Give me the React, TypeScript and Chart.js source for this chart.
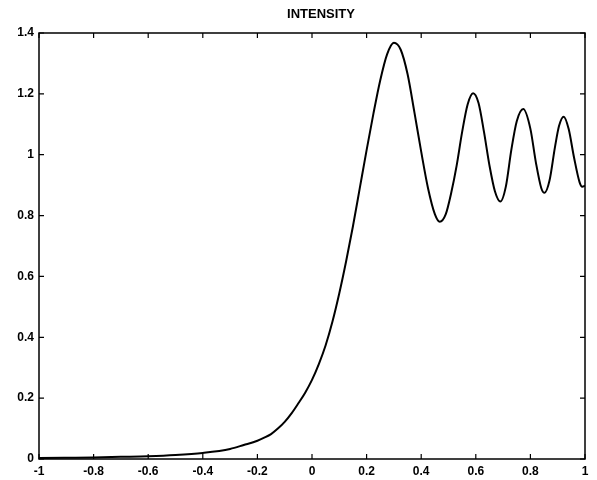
import React, { useEffect, useRef } from "react";
import { Chart, registerables } from "chart.js";

Chart.register(...registerables);

const titleText = "INTENSITY";

const xValues = [
  -1, -0.9, -0.8, -0.7, -0.6, -0.5, -0.4, -0.3, -0.25, -0.2, -0.175, -0.15,
  -0.125, -0.1, -0.075, -0.05, -0.025, 0, 0.025, 0.05, 0.075, 0.1, 0.125, 0.15,
  0.175, 0.2, 0.225, 0.25, 0.275, 0.3, 0.325, 0.35, 0.375, 0.4, 0.425, 0.45,
  0.468, 0.49, 0.51, 0.53, 0.55, 0.57, 0.59, 0.61, 0.63, 0.65, 0.67, 0.69,
  0.71, 0.73, 0.75, 0.774, 0.8, 0.82, 0.84, 0.852, 0.87, 0.89, 0.905, 0.922,
  0.94, 0.96, 0.98, 0.99, 1,
];

const intensity = [
  0.003, 0.004, 0.005, 0.007, 0.009, 0.013, 0.02, 0.033, 0.046, 0.06, 0.07,
  0.082, 0.1, 0.122, 0.15, 0.183, 0.218, 0.26, 0.312, 0.374, 0.452, 0.545, 0.65,
  0.765, 0.89, 1.015, 1.135, 1.245, 1.33, 1.368, 1.345, 1.265, 1.14, 1.01, 0.89,
  0.805, 0.78, 0.805, 0.875, 0.965, 1.075, 1.165, 1.202, 1.17, 1.075, 0.965,
  0.88, 0.846, 0.895, 1.015, 1.11, 1.15, 1.085, 0.975, 0.89, 0.875, 0.915,
  1.025, 1.095, 1.125, 1.085, 0.99, 0.91, 0.895, 0.898,
];

const xTicks = [-1, -0.8, -0.6, -0.4, -0.2, 0, 0.2, 0.4, 0.6, 0.8, 1];
const xTickLabels = ["-1", "-0.8", "-0.6", "-0.4", "-0.2", "0", "0.2", "0.4", "0.6", "0.8", "1"];
const yTicks = [0, 0.2, 0.4, 0.6, 0.8, 1, 1.2, 1.4];
const yTickLabels = ["0", "0.2", "0.4", "0.6", "0.8", "1", "1.2", "1.4"];

const FONT = "'Liberation Sans', Arial, Helvetica, sans-serif";

const frame = {
  id: "matlabFrame",
  afterDraw(chart: any) {
    const { ctx, chartArea: a, scales } = chart;
    ctx.save();
    ctx.strokeStyle = "#000";
    ctx.lineWidth = 1.5;
    ctx.strokeRect(a.left, a.top, a.right - a.left, a.bottom - a.top);
    ctx.lineWidth = 1.2;
    const len = 5;
    ctx.beginPath();
    xTicks.forEach((v) => {
      const px = scales.x.getPixelForValue(v);
      ctx.moveTo(px, a.bottom);
      ctx.lineTo(px, a.bottom - len);
      ctx.moveTo(px, a.top);
      ctx.lineTo(px, a.top + len);
    });
    yTicks.forEach((v) => {
      const py = scales.y.getPixelForValue(v);
      ctx.moveTo(a.left, py);
      ctx.lineTo(a.left + len, py);
      ctx.moveTo(a.right, py);
      ctx.lineTo(a.right - len, py);
    });
    ctx.stroke();
    ctx.fillStyle = "#000";
    ctx.font = `bold 13px ${FONT}`;
    ctx.textAlign = "center";
    ctx.textBaseline = "middle";
    ctx.fillText(titleText, (a.left + a.right) / 2 + 9, 14);
    ctx.restore();
  },
};

export default function App() {
  const ref = useRef<HTMLCanvasElement>(null);

  useEffect(() => {
    if (!ref.current) return;
    const points = xValues.map((x, i) => ({ x, y: intensity[i] }));
    const chart = new Chart(ref.current, {
      type: "line",
      data: {
        datasets: [
          {
            data: points,
            borderColor: "#000",
            borderWidth: 2,
            pointRadius: 0,
            fill: false,
            cubicInterpolationMode: "monotone",
          },
        ],
      },
      options: {
        animation: false,
        responsive: false,
        devicePixelRatio: 1,
        layout: { padding: { top: 33, right: 12, left: 0, bottom: 0 } },
        plugins: { legend: { display: false }, tooltip: { enabled: false }, title: { display: false } },
        scales: {
          x: {
            type: "linear",
            min: -1,
            max: 1,
            afterBuildTicks: (s: any) => {
              s.ticks = xTicks.map((v) => ({ value: v }));
            },
            afterFit: (s: any) => {
              s.height = 21;
            },
            grid: { display: false, drawTicks: false },
            border: { display: false },
            ticks: {
              padding: 5,
              color: "#000",
              maxRotation: 0,
              autoSkip: false,
              font: { family: FONT, size: 12, weight: "bold" },
              callback: (v: any) => {
                const i = xTicks.findIndex((t) => Math.abs(t - Number(v)) < 1e-6);
                return i >= 0 ? xTickLabels[i] : "";
              },
            },
          },
          y: {
            type: "linear",
            min: 0,
            max: 1.4,
            afterBuildTicks: (s: any) => {
              s.ticks = yTicks.map((v) => ({ value: v }));
            },
            afterFit: (s: any) => {
              s.width = 39;
            },
            grid: { display: false, drawTicks: false },
            border: { display: false },
            ticks: {
              padding: 5,
              color: "#000",
              autoSkip: false,
              font: { family: FONT, size: 12, weight: "bold" },
              callback: (v: any) => {
                const i = yTicks.findIndex((t) => Math.abs(t - Number(v)) < 1e-6);
                return i >= 0 ? yTickLabels[i] : "";
              },
            },
          },
        },
      },
      plugins: [frame],
    } as any);
    return () => chart.destroy();
  }, []);

  return (
    <div style={{ position: "fixed", left: 0, top: 0, width: 597, height: 480, background: "#fff" }}>
      <canvas ref={ref} width={597} height={480} style={{ display: "block" }} />
    </div>
  );
}
